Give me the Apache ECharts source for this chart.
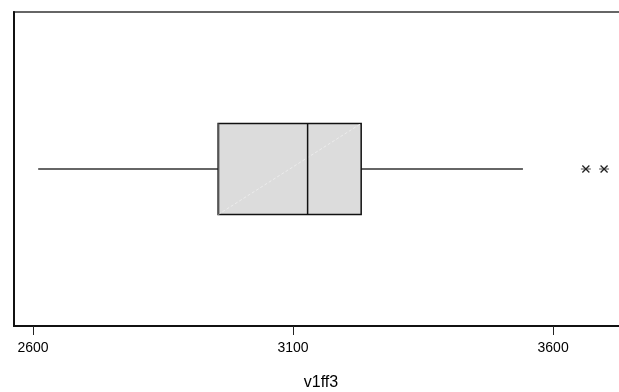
<!DOCTYPE html>
<html>
<head>
<meta charset="utf-8">
<script src="https://cdn.jsdelivr.net/npm/echarts@6/dist/echarts.min.js"></script>
<style>
  html, body { margin: 0; padding: 0; background: #fff; }
  #chart { width: 619px; height: 392px; }
</style>
</head>
<body>
<div id="chart"></div>
<script>
// Five-number summary of v1ff3: lower whisker, Q1, median, Q3, upper whisker
const categories = ['v1ff3'];
const boxStats = [[2610, 2956, 3128, 3231, 3542]];
// Observations beyond the upper fence
const outliers = [3663, 3698];
const tickValues = [2600, 3100, 3600];
const axisTitle = 'v1ff3';

const chart = echarts.init(document.getElementById('chart'));

function renderBox(params, api) {
  const y = api.value(0);
  const lo = api.coord([api.value(1), y]);
  const q1 = api.coord([api.value(2), y]);
  const med = api.coord([api.value(3), y]);
  const q3 = api.coord([api.value(4), y]);
  const hi = api.coord([api.value(5), y]);
  const band = api.size([0, 1])[1];
  const h = band * 0.29;
  const cy = lo[1];
  const top = cy - h / 2, bot = cy + h / 2;
  const whisker = { stroke: '#666', lineWidth: 2 };
  return {
    type: 'group',
    children: [
      { type: 'line', shape: { x1: lo[0], y1: cy, x2: q1[0], y2: cy }, style: whisker },
      { type: 'line', shape: { x1: q3[0], y1: cy, x2: hi[0], y2: cy }, style: whisker },
      { type: 'rect', shape: { x: q1[0], y: top, width: q3[0] - q1[0], height: h },
        style: { fill: '#dcdcdc', stroke: '#111', lineWidth: 1.5 } },
      { type: 'line', shape: { x1: q1[0], y1: bot, x2: q3[0], y2: top },
        style: { stroke: '#ececec', lineWidth: 1, lineDash: [3, 2] } },
      { type: 'line', shape: { x1: q1[0] + 0.5, y1: top, x2: q1[0] + 0.5, y2: bot },
        style: { stroke: '#555', lineWidth: 1.5 } },
      { type: 'line', shape: { x1: med[0], y1: top, x2: med[0], y2: bot },
        style: { stroke: '#111', lineWidth: 1.5 } }
    ]
  };
}

function renderStar(params, api) {
  const p = api.coord([api.value(0), api.value(1)]);
  const r = 5, d = 3.5;
  const st = { stroke: '#222', lineWidth: 1.3 };
  return {
    type: 'group',
    children: [
      { type: 'line', shape: { x1: p[0] - r, y1: p[1], x2: p[0] + r, y2: p[1] }, style: { stroke: '#777', lineWidth: 1.3 } },
      { type: 'line', shape: { x1: p[0] - d, y1: p[1] - d, x2: p[0] + d, y2: p[1] + d }, style: st },
      { type: 'line', shape: { x1: p[0] - d, y1: p[1] + d, x2: p[0] + d, y2: p[1] - d }, style: st }
    ]
  };
}

chart.setOption({
  animation: false,
  backgroundColor: '#fff',
  grid: {
    left: 14, top: 12, width: 614, bottom: 66,
    containLabel: false, outerBoundsMode: 'none',
    show: true, borderColor: '#666', borderWidth: 2, backgroundColor: 'transparent'
  },
  xAxis: {
    type: 'value',
    min: 2563.5,
    max: 3744,
    name: axisTitle,
    nameLocation: 'middle',
    nameGap: 49,
    nameTextStyle: { fontFamily: 'Liberation Sans, Arial, sans-serif', fontSize: 16, color: '#000' },
    axisLine: { show: true, lineStyle: { color: '#111', width: 2 } },
    axisTick: { show: true, length: 9, customValues: tickValues, lineStyle: { color: '#222', width: 1 } },
    axisLabel: {
      customValues: tickValues, margin: 15,
      formatter: v => String(v),
      fontFamily: 'Liberation Sans, Arial, sans-serif', fontSize: 14, color: '#000'
    },
    splitLine: { show: false }
  },
  yAxis: {
    type: 'category',
    data: categories,
    axisLine: { show: true, lineStyle: { color: '#111', width: 2 } },
    axisTick: { show: false },
    axisLabel: { show: false },
    splitLine: { show: false }
  },
  series: [
    {
      type: 'custom',
      renderItem: renderBox,
      encode: { x: [1, 2, 3, 4, 5], y: 0 },
      data: boxStats.map((s, i) => [i].concat(s))
    },
    {
      type: 'custom',
      renderItem: renderStar,
      encode: { x: 0, y: 1 },
      data: outliers.map(v => [v, 0])
    }
  ]
});
</script>
</body>
</html>
